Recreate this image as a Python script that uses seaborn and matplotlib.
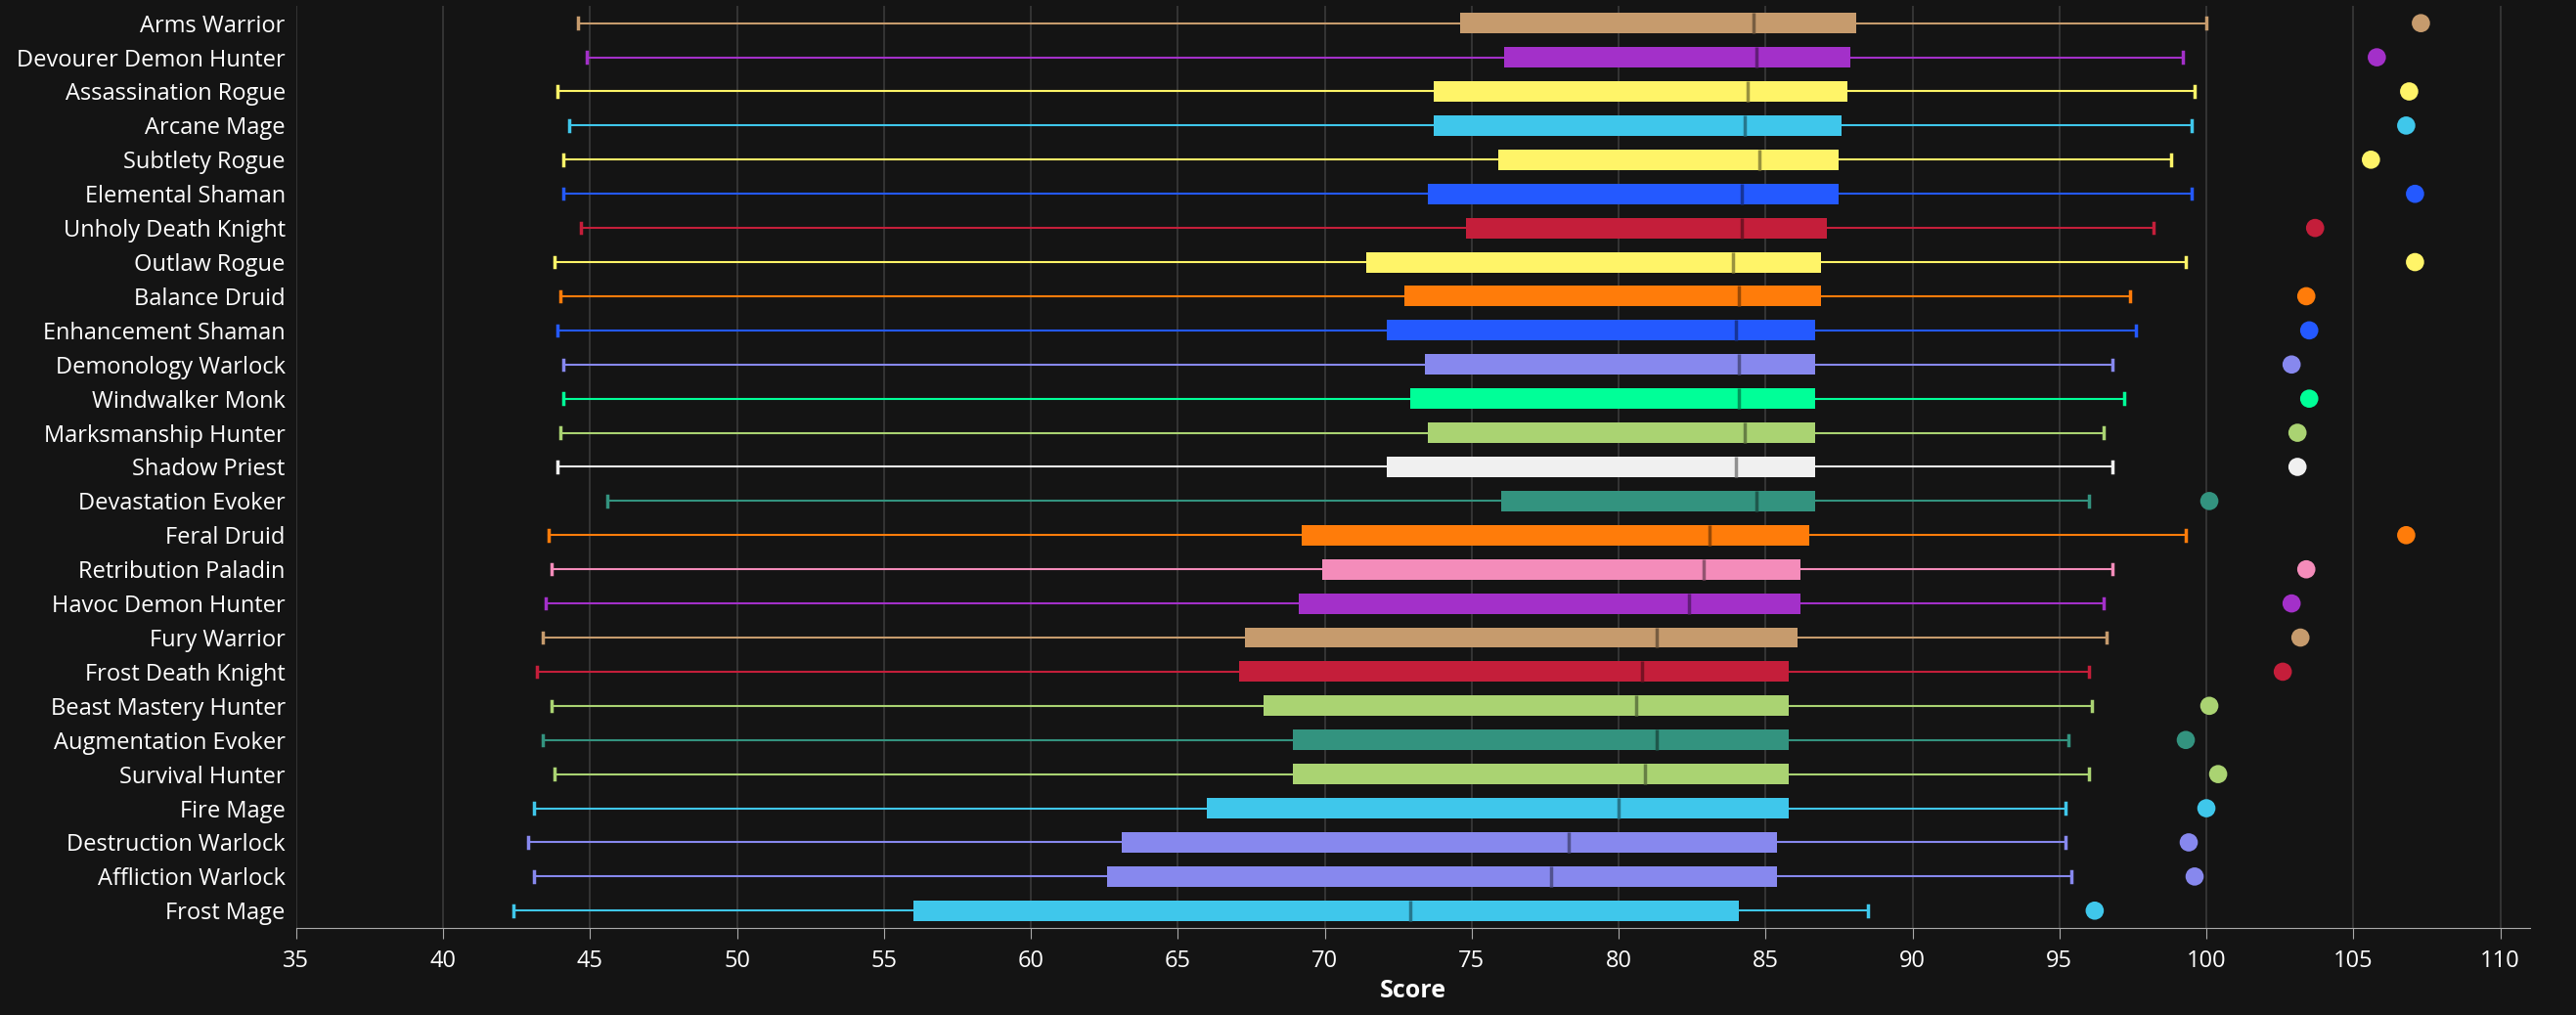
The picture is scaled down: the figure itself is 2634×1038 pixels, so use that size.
import numpy as np
import pandas as pd
import seaborn as sns
import matplotlib.pyplot as plt
from matplotlib.colors import to_rgb

specs = ['Arms Warrior', 'Devourer Demon Hunter', 'Assassination Rogue', 'Arcane Mage',
         'Subtlety Rogue', 'Elemental Shaman', 'Unholy Death Knight', 'Outlaw Rogue',
         'Balance Druid', 'Enhancement Shaman', 'Demonology Warlock', 'Windwalker Monk',
         'Marksmanship Hunter', 'Shadow Priest', 'Devastation Evoker', 'Feral Druid',
         'Retribution Paladin', 'Havoc Demon Hunter', 'Fury Warrior', 'Frost Death Knight',
         'Beast Mastery Hunter', 'Augmentation Evoker', 'Survival Hunter', 'Fire Mage',
         'Destruction Warlock', 'Affliction Warlock', 'Frost Mage']
low = [44.6, 44.9, 43.9, 44.3, 44.1, 44.1, 44.7, 43.8, 44.0, 43.9, 44.1, 44.1, 44.0, 43.9,
       45.6, 43.6, 43.7, 43.5, 43.4, 43.2, 43.7, 43.4, 43.8, 43.1, 42.9, 43.1, 42.4]
q1 = [74.6, 76.1, 73.7, 73.7, 75.9, 73.5, 74.8, 71.4, 72.7, 72.1, 73.4, 72.9, 73.5, 72.1,
      76.0, 69.2, 69.9, 69.1, 67.3, 67.1, 67.9, 68.9, 68.9, 66.0, 63.1, 62.6, 56.0]
med = [84.6, 84.7, 84.4, 84.3, 84.8, 84.2, 84.2, 83.9, 84.1, 84.0, 84.1, 84.1, 84.3, 84.0,
       84.7, 83.1, 82.9, 82.4, 81.3, 80.8, 80.6, 81.3, 80.9, 80.0, 78.3, 77.7, 72.9]
q3 = [88.1, 87.9, 87.8, 87.6, 87.5, 87.5, 87.1, 86.9, 86.9, 86.7, 86.7, 86.7, 86.7, 86.7,
      86.7, 86.5, 86.2, 86.2, 86.1, 85.8, 85.8, 85.8, 85.8, 85.8, 85.4, 85.4, 84.1]
high = [100.0, 99.2, 99.6, 99.5, 98.8, 99.5, 98.2, 99.3, 97.4, 97.6, 96.8, 97.2, 96.5, 96.8,
        96.0, 99.3, 96.8, 96.5, 96.6, 96.0, 96.1, 95.3, 96.0, 95.2, 95.2, 95.4, 88.5]
top = [107.3, 105.8, 106.9, 106.8, 105.6, 107.1, 103.7, 107.1, 103.4, 103.5, 102.9, 103.5,
       103.1, 103.1, 100.1, 106.8, 103.4, 102.9, 103.2, 102.6, 100.1, 99.3, 100.4, 100.0,
       99.4, 99.6, 96.2]
class_colors = {'Warrior': '#C69B6D', 'Demon Hunter': '#A330C9', 'Rogue': '#FFF468',
                'Mage': '#3FC7EB', 'Shaman': '#2459FF', 'Death Knight': '#C41E3A',
                'Druid': '#FF7C0A', 'Warlock': '#8788EE', 'Monk': '#00FF98',
                'Hunter': '#AAD372', 'Priest': '#F0F0F0', 'Evoker': '#33937F',
                'Paladin': '#F48CBA'}

def spec_color(name):
    for k, c in class_colors.items():
        if name.endswith(k):
            return c

colors = [spec_color(s) for s in specs]
df = pd.DataFrame({'spec': specs, 'top': top, 'y': np.arange(len(specs))})

bg = '#141414'
fig, ax = plt.subplots(figsize=(26.34, 10.38), dpi=100)
fig.patch.set_facecolor(bg)
ax.set_facecolor(bg)
fig.subplots_adjust(left=0.115, right=0.982, top=0.994, bottom=0.086)

for i in range(len(specs)):
    c = colors[i]
    dark = tuple(v * 0.6 for v in to_rgb(c))
    st = [{'whislo': low[i], 'q1': q1[i], 'med': med[i], 'q3': q3[i], 'whishi': high[i], 'fliers': []}]
    ax.bxp(st, positions=[i], vert=False, widths=0.6, patch_artist=True, showfliers=False,
           boxprops=dict(facecolor=c, edgecolor=c, linewidth=0),
           medianprops=dict(color=dark, linewidth=2.5),
           whiskerprops=dict(color=c, linewidth=1.5),
           capprops=dict(color=c, linewidth=2.5), capwidths=0.3)

sns.scatterplot(data=df, x='top', y='y', hue='spec', palette=colors, s=180,
                linewidth=0, legend=False, ax=ax, zorder=3)

ax.set_xlim(35, 111)
ax.set_ylim(len(specs) - 0.5, -0.5)
ax.set_xticks(range(35, 111, 5))
ax.set_yticks(range(len(specs)))
ax.set_yticklabels(specs)
ax.grid(axis='x', color='#3a3a3a', linewidth=1.2)
ax.set_axisbelow(True)
ax.tick_params(colors='white', labelsize=17, length=0, pad=8)
ax.tick_params(axis='x', length=8, color='#aaaaaa')
for sp in ['top', 'right', 'left']:
    ax.spines[sp].set_visible(False)
ax.spines['bottom'].set_color('#aaaaaa')
ax.set_xlabel('Score', color='white', fontsize=18, fontweight='bold')
ax.set_ylabel('')
for t in ax.get_xticklabels() + ax.get_yticklabels():
    t.set_family(['Open Sans', 'DejaVu Sans'])
ax.xaxis.label.set_family(['Open Sans', 'DejaVu Sans'])

fig.savefig('out.png', dpi=100, facecolor=bg)
